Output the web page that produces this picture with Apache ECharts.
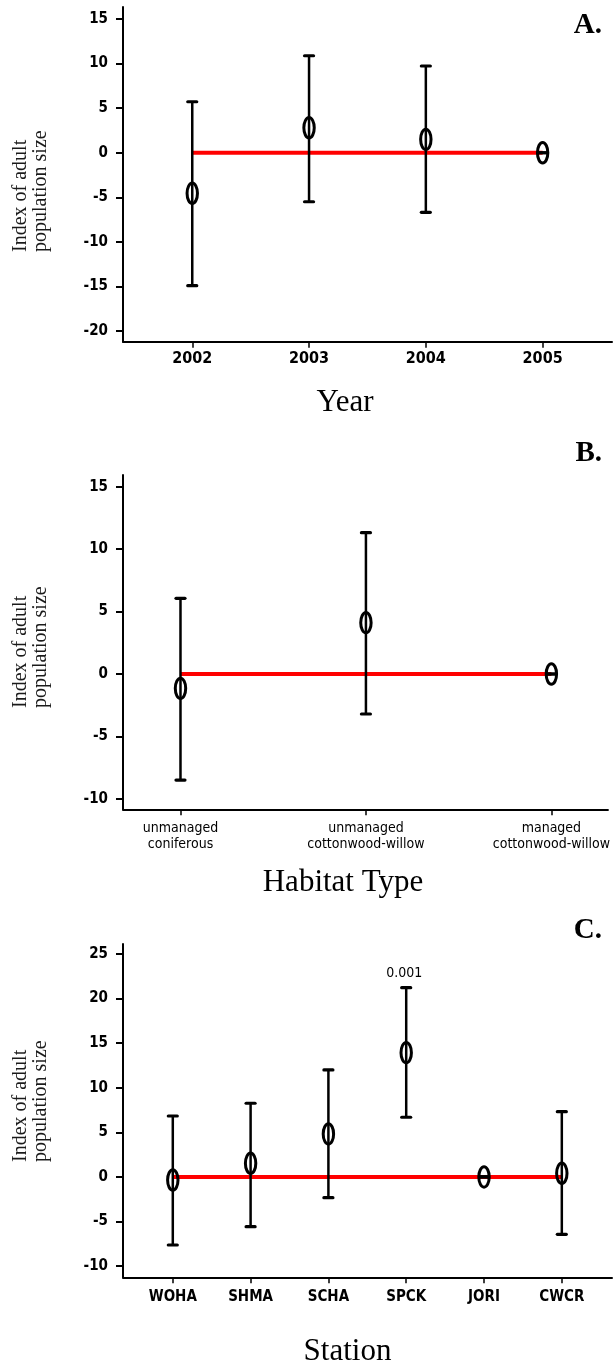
<!DOCTYPE html>
<html>
<head>
<meta charset="utf-8">
<script src="https://cdn.jsdelivr.net/npm/echarts@6/dist/echarts.min.js"></script>
<style>
html,body{margin:0;padding:0;background:#fff;}
#chart{width:613px;height:1367px;}
</style>
</head>
<body>
<div id="chart"></div>
<script>
// ---- Data ----
const yearCats = ['2002', '2003', '2004', '2005'];
const yearMean = [-4.55, 2.8, 1.5, 0];
const yearLower = [-14.92, -5.5, -6.69, 0];
const yearUpper = [5.72, 10.88, 9.73, 0];

const habitatCats = ['unmanaged\nconiferous', 'unmanaged\ncottonwood-willow', 'managed\ncottonwood-willow'];
const habitatMean = [-1.15, 4.11, 0];
const habitatLower = [-8.49, -3.2, 0];
const habitatUpper = [6.06, 11.31, 0];

const stationCats = ['WOHA', 'SHMA', 'SCHA', 'SPCK', 'JORI', 'CWCR'];
const stationMean = [-0.34, 1.53, 4.82, 13.93, 0, 0.41];
const stationLower = [-7.62, -5.57, -2.32, 6.69, 0, -6.42];
const stationUpper = [6.83, 8.26, 11.99, 21.21, 0, 7.32];
const stationNotes = ['', '', '', '0.001', '', ''];

const refValue = 0;

const yTicksA = [-20, -15, -10, -5, 0, 5, 10, 15];
const yTicksB = [-10, -5, 0, 5, 10, 15];
const yTicksC = [-10, -5, 0, 5, 10, 15, 20, 25];

const panelLetters = ['A.', 'B.', 'C.'];
const xTitles = ['Year', 'Habitat Type', 'Station'];
const yTitle = 'Index of adult\npopulation size';

// ---- Chart ----
const NARROW = "'Liberation Sans Narrow','DejaVu Sans Condensed','Arial Narrow',sans-serif";
const SERIF = "'Liberation Serif','Times New Roman',serif";

const chart = echarts.init(document.getElementById('chart'), null, {renderer: 'canvas'});

const panels = [
  {cats: yearCats, mean: yearMean, lo: yearLower, hi: yearUpper, notes: null,
   grid: {left: 123, top: 7, right: 1, height: 334.7},
   xr: [-0.593, 3.594], yr: [-21.2, 16.35], yTicks: yTicksA,
   xLabel: {fontSize: 16, fontWeight: 'bold', margin: 9}},
  {cats: habitatCats, mean: habitatMean, lo: habitatLower, hi: habitatUpper, notes: null,
   grid: {left: 123, top: 475, right: 1, height: 334.3},
   xr: [-0.31, 2.305], yr: [-10.83, 15.93], yTicks: yTicksB,
   xLabel: {fontSize: 14, fontWeight: 'normal', margin: 11, lineHeight: 16}},
  {cats: stationCats, mean: stationMean, lo: stationLower, hi: stationUpper, notes: stationNotes,
   grid: {left: 123, top: 944, right: 1, height: 333.3},
   xr: [-0.64, 5.645], yr: [-11.24, 26.1], yTicks: yTicksC,
   xLabel: {fontSize: 15, fontWeight: 'bold', margin: 12}}
];

const grids = [], xAxes = [], yAxes = [], series = [];

panels.forEach((p, k) => {
  grids.push(p.grid);
  const idx = p.cats.map((c, i) => i);
  xAxes.push({
    type: 'value', gridIndex: k, min: p.xr[0], max: p.xr[1],
    axisLine: {show: true, onZero: false, lineStyle: {color: '#000', width: 2}},
    axisTick: {show: true, customValues: idx, length: 6, lineStyle: {color: '#000', width: 1.5}},
    axisLabel: Object.assign({
      customValues: idx, color: '#000', fontFamily: NARROW,
      formatter: v => p.cats[Math.round(v)] || ''
    }, p.xLabel),
    splitLine: {show: false}
  });
  yAxes.push({
    type: 'value', gridIndex: k, min: p.yr[0], max: p.yr[1],
    axisLine: {show: true, onZero: false, lineStyle: {color: '#000', width: 2}},
    axisTick: {show: true, customValues: p.yTicks, length: 7, lineStyle: {color: '#000', width: 2}},
    axisLabel: {customValues: p.yTicks, color: '#000', fontFamily: NARROW, fontSize: 15,
      fontWeight: 'bold', margin: 15},
    splitLine: {show: false}
  });
  // red reference line across categories
  series.push({
    type: 'line', xAxisIndex: k, yAxisIndex: k, z: 1,
    data: [[0, refValue], [p.cats.length - 1, refValue]],
    symbol: 'none', silent: true,
    lineStyle: {color: '#ff0000', width: 4}
  });
  // error bars
  const notes = p.notes;
  series.push({
    type: 'custom', xAxisIndex: k, yAxisIndex: k, z: 2, clip: false, silent: true,
    data: p.cats.map((c, i) => [i, p.lo[i], p.hi[i]]),
    renderItem: function (params, api) {
      const x = api.value(0), lo = api.value(1), hi = api.value(2);
      const pl = api.coord([x, lo]), ph = api.coord([x, hi]);
      const cw = 4.5;
      const children = [
        {type: 'line', shape: {x1: pl[0], y1: pl[1], x2: ph[0], y2: ph[1]},
         style: {stroke: '#000', lineWidth: 2.5}},
        {type: 'line', shape: {x1: ph[0] - cw, y1: ph[1], x2: ph[0] + cw, y2: ph[1]},
         style: {stroke: '#000', lineWidth: 3.2, lineCap: 'round'}},
        {type: 'line', shape: {x1: pl[0] - cw, y1: pl[1], x2: pl[0] + cw, y2: pl[1]},
         style: {stroke: '#000', lineWidth: 3.2, lineCap: 'round'}}
      ];
      const note = notes ? notes[params.dataIndex] : '';
      if (note) {
        children.push({type: 'text', x: ph[0] - 2, y: ph[1] - 14,
          style: {text: note, fill: '#000', font: '14px ' + NARROW,
                  align: 'center', verticalAlign: 'middle'}});
      }
      return {type: 'group', children: children};
    }
  });
  // means as open ellipses
  series.push({
    type: 'custom', xAxisIndex: k, yAxisIndex: k, z: 3, clip: false, silent: true,
    data: p.mean.map((m, i) => [i, m]),
    renderItem: function (params, api) {
      const c = api.coord([api.value(0), api.value(1)]);
      return {type: 'ellipse', shape: {cx: c[0], cy: c[1], rx: 5.2, ry: 10.2},
        style: {fill: 'none', stroke: '#000', lineWidth: 3}};
    }
  });
});

const graphics = [];
const letterY = [25.7, 454, 931];
const xTitleY = [403, 883, 1352];
const xTitleX = [345, 343, 347.5];
const yTitleStart = [252, 708, 1162];
for (let k = 0; k < 3; k++) {
  graphics.push({type: 'text', x: 602, y: letterY[k],
    style: {text: panelLetters[k], font: 'bold 29px ' + SERIF, fill: '#000',
            align: 'right', verticalAlign: 'middle'}});
  graphics.push({type: 'text', x: xTitleX[k], y: xTitleY[k],
    style: {text: xTitles[k], font: '31px ' + SERIF, fill: '#000',
            align: 'center', verticalAlign: 'middle'}});
  graphics.push({type: 'text', x: 11, y: yTitleStart[k], rotation: Math.PI / 2,
    style: {text: yTitle, font: '20px ' + SERIF, fill: '#1a1a1a', lineHeight: 20,
            align: 'left', verticalAlign: 'top'}});
}

chart.setOption({
  animation: false,
  backgroundColor: '#fff',
  grid: grids,
  xAxis: xAxes,
  yAxis: yAxes,
  series: series,
  graphic: graphics
});
</script>
</body>
</html>
